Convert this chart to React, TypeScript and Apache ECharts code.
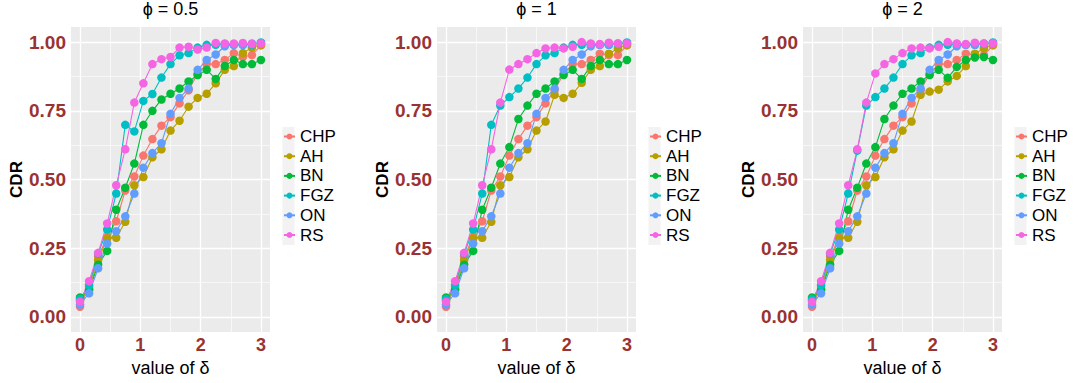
import React, { useEffect, useRef } from "react";
import * as echarts from "echarts";

const methods = ["CHP", "AH", "BN", "FGZ", "ON", "RS"];
const methodColors = ["#F8766D", "#B79F00", "#00BA38", "#00BFC4", "#619CFF", "#F564E3"];
const panelTitles = ["ϕ = 0.5", "ϕ = 1", "ϕ = 2"];
const delta = [0, 0.15, 0.3, 0.45, 0.6, 0.75, 0.9, 1.05, 1.2, 1.35, 1.5, 1.65, 1.8, 1.95, 2.1, 2.25, 2.4, 2.55, 2.7, 2.85, 3.0];
const xTickValues = [0, 1, 2, 3];
const xMinorValues = [0.5, 1.5, 2.5];
const yTickValues = [0, 0.25, 0.5, 0.75, 1];
const yMinorValues = [0.125, 0.375, 0.625, 0.875];

// phi = 0.5
const chpPhi05 = [0.037, 0.11, 0.22, 0.29, 0.348, 0.46, 0.511, 0.587, 0.647, 0.696, 0.727, 0.777, 0.825, 0.885, 0.92, 0.92, 0.935, 0.96, 0.946, 0.953, 0.988];
const ahPhi05 = [0.06, 0.1, 0.207, 0.285, 0.288, 0.346, 0.479, 0.509, 0.581, 0.61, 0.678, 0.714, 0.765, 0.797, 0.812, 0.85, 0.899, 0.913, 0.96, 0.98, 0.99];
const bnPhi05 = [0.071, 0.098, 0.19, 0.24, 0.39, 0.47, 0.558, 0.699, 0.75, 0.791, 0.812, 0.831, 0.857, 0.88, 0.899, 0.866, 0.913, 0.935, 0.92, 0.92, 0.935];
const fgzPhi05 = [0.065, 0.116, 0.23, 0.318, 0.449, 0.699, 0.675, 0.786, 0.811, 0.871, 0.92, 0.952, 0.96, 0.98, 0.99, 0.99, 0.993, 0.99, 0.99, 0.99, 0.999];
const onPhi05 = [0.045, 0.086, 0.177, 0.267, 0.312, 0.366, 0.449, 0.543, 0.596, 0.632, 0.739, 0.797, 0.831, 0.899, 0.935, 0.955, 0.985, 0.99, 0.99, 0.995, 0.997];
const rsPhi05 = [0.055, 0.13, 0.233, 0.34, 0.479, 0.61, 0.78, 0.85, 0.92, 0.938, 0.946, 0.98, 0.983, 0.973, 0.98, 0.997, 0.995, 0.995, 0.997, 0.993, 0.995];

// phi = 1
const chpPhi1 = [0.037, 0.11, 0.22, 0.29, 0.348, 0.46, 0.511, 0.587, 0.647, 0.696, 0.727, 0.777, 0.825, 0.885, 0.92, 0.92, 0.935, 0.958, 0.953, 0.953, 0.988];
const ahPhi1 = [0.06, 0.1, 0.207, 0.285, 0.288, 0.346, 0.479, 0.509, 0.581, 0.61, 0.678, 0.711, 0.808, 0.797, 0.812, 0.852, 0.899, 0.913, 0.958, 0.977, 0.99];
const bnPhi1 = [0.071, 0.098, 0.19, 0.24, 0.39, 0.47, 0.558, 0.618, 0.72, 0.769, 0.812, 0.831, 0.857, 0.88, 0.899, 0.866, 0.913, 0.935, 0.92, 0.92, 0.935];
const fgzPhi1 = [0.065, 0.116, 0.23, 0.318, 0.449, 0.699, 0.769, 0.8, 0.831, 0.871, 0.92, 0.952, 0.96, 0.98, 0.99, 0.99, 0.993, 0.99, 0.99, 0.993, 0.999];
const onPhi1 = [0.045, 0.086, 0.177, 0.267, 0.312, 0.366, 0.449, 0.543, 0.596, 0.632, 0.739, 0.797, 0.831, 0.899, 0.935, 0.955, 0.985, 0.99, 0.99, 0.995, 0.997];
const rsPhi1 = [0.055, 0.13, 0.233, 0.34, 0.479, 0.61, 0.78, 0.9, 0.92, 0.938, 0.96, 0.977, 0.98, 0.977, 0.983, 1.0, 0.995, 0.993, 0.998, 0.995, 0.995];

// phi = 2
const chpPhi2 = [0.037, 0.11, 0.22, 0.29, 0.348, 0.46, 0.511, 0.587, 0.647, 0.696, 0.727, 0.777, 0.825, 0.885, 0.92, 0.92, 0.935, 0.958, 0.953, 0.953, 0.988];
const ahPhi2 = [0.06, 0.1, 0.207, 0.285, 0.288, 0.346, 0.479, 0.509, 0.581, 0.61, 0.678, 0.711, 0.808, 0.82, 0.827, 0.857, 0.877, 0.913, 0.958, 0.977, 0.99];
const bnPhi2 = [0.071, 0.098, 0.19, 0.24, 0.39, 0.47, 0.558, 0.618, 0.72, 0.769, 0.812, 0.831, 0.857, 0.88, 0.899, 0.87, 0.91, 0.935, 0.944, 0.946, 0.935];
const fgzPhi2 = [0.065, 0.116, 0.23, 0.318, 0.449, 0.605, 0.769, 0.8, 0.831, 0.871, 0.92, 0.952, 0.96, 0.98, 0.99, 0.99, 0.993, 0.99, 0.99, 0.993, 0.999];
const onPhi2 = [0.045, 0.086, 0.177, 0.267, 0.312, 0.366, 0.449, 0.543, 0.596, 0.632, 0.739, 0.797, 0.831, 0.899, 0.935, 0.955, 0.985, 0.99, 0.99, 0.995, 0.997];
const rsPhi2 = [0.055, 0.13, 0.233, 0.34, 0.479, 0.61, 0.78, 0.886, 0.92, 0.938, 0.96, 0.977, 0.98, 0.977, 0.983, 1.0, 0.995, 0.993, 0.998, 0.995, 0.995];

const panelSeries = [
  [chpPhi05, ahPhi05, bnPhi05, fgzPhi05, onPhi05, rsPhi05],
  [chpPhi1, ahPhi1, bnPhi1, fgzPhi1, onPhi1, rsPhi1],
  [chpPhi2, ahPhi2, bnPhi2, fgzPhi2, onPhi2, rsPhi2],
];

// layout
const FONT = "Liberation Sans, Arial, Helvetica, sans-serif";
const GRID_LEFTS = [71, 437, 803];
const GRID_TOP = 27;
const GRID_W = 199;
const GRID_H = 305;
const LEGEND_LEFTS = [283, 649, 1015];
const X_MIN = -0.15;
const X_MAX = 3.15;
const Y_MIN = -0.055;
const Y_MAX = 1.055;
const LABEL_RED = "#993333";

function buildOption() {
  const grid: any[] = [];
  const xAxis: any[] = [];
  const yAxis: any[] = [];
  const title: any[] = [];
  const legend: any[] = [];
  const graphic: any[] = [];
  const gridSeries: any[] = [];
  const lineSeries: any[] = [];
  const pointSeries: any[] = [];

  panelTitles.forEach((t, i) => {
    grid.push({
      left: GRID_LEFTS[i],
      top: GRID_TOP,
      width: GRID_W,
      height: GRID_H,
      show: true,
      backgroundColor: "#EBEBEB",
      borderWidth: 0,
    });
    xAxis.push({
      gridIndex: i,
      type: "value",
      min: X_MIN,
      max: X_MAX,
      axisLine: { show: false },
      axisTick: { show: true, customValues: xTickValues, length: 3, lineStyle: { color: "#333333", width: 1 } },
      axisLabel: {
        customValues: xTickValues,
        color: LABEL_RED,
        fontWeight: "bold",
        fontSize: 18,
        fontFamily: FONT,
        margin: 4,
        formatter: (v: number) => String(v),
      },
      splitLine: { show: false },
      name: "value of δ",
      nameLocation: "middle",
      nameGap: 23,
      nameTextStyle: { fontSize: 18, fontFamily: FONT, color: "#000" },
    });
    yAxis.push({
      gridIndex: i,
      type: "value",
      min: Y_MIN,
      max: Y_MAX,
      axisLine: { show: false },
      axisTick: { show: true, customValues: yTickValues, length: 3, lineStyle: { color: "#333333", width: 1 } },
      axisLabel: {
        customValues: yTickValues,
        color: LABEL_RED,
        fontWeight: "bold",
        fontSize: 19,
        fontFamily: FONT,
        margin: 5,
        formatter: (v: number) => v.toFixed(2),
      },
      splitLine: { show: false },
      name: "CDR",
      nameLocation: "middle",
      nameGap: 45,
      nameRotate: 90,
      nameTextStyle: { fontSize: 17, fontWeight: "bold", fontFamily: FONT, color: "#000" },
    });
    title.push({
      text: t,
      left: GRID_LEFTS[i] + GRID_W / 2,
      top: 0,
      padding: 0,
      textAlign: "center",
      textStyle: { fontSize: 18, fontWeight: "normal", fontFamily: FONT, color: "#000" },
    });
    legend.push({
      orient: "vertical",
      left: LEGEND_LEFTS[i],
      top: 128,
      padding: 0,
      itemWidth: 11,
      itemHeight: 7.5,
      itemGap: 2.7,
      itemTextGap: 4,
      selectedMode: false,
      data: methods,
      textStyle: { fontSize: 17, lineHeight: 17, fontFamily: FONT, color: "#000" },
    });
    graphic.push({
      type: "rect",
      shape: { x: LEGEND_LEFTS[i] - 0.5, y: 127, width: 12, height: 118 },
      style: { fill: "#F2F2F2" },
      z: -1,
      silent: true,
    });

    const gl: any[] = [];
    xTickValues.forEach((v) => gl.push({ coords: [[v, Y_MIN], [v, Y_MAX]], lineStyle: { width: 1.3 } }));
    xMinorValues.forEach((v) => gl.push({ coords: [[v, Y_MIN], [v, Y_MAX]], lineStyle: { width: 0.6 } }));
    yTickValues.forEach((v) => gl.push({ coords: [[X_MIN, v], [X_MAX, v]], lineStyle: { width: 1.3 } }));
    yMinorValues.forEach((v) => gl.push({ coords: [[X_MIN, v], [X_MAX, v]], lineStyle: { width: 0.6 } }));
    gridSeries.push({
      type: "lines",
      coordinateSystem: "cartesian2d",
      xAxisIndex: i,
      yAxisIndex: i,
      silent: true,
      z: 1,
      lineStyle: { color: "#FFFFFF", opacity: 1, curveness: 0 },
      data: gl,
    });

    panelSeries[i].forEach((vals, j) => {
      const data = delta.map((d, k) => [d, vals[k]]);
      lineSeries.push({
        type: "line",
        name: methods[j],
        xAxisIndex: i,
        yAxisIndex: i,
        data,
        symbol: "circle",
        symbolSize: 8.5,
        showSymbol: false,
        lineStyle: { color: methodColors[j], width: 1.1 },
        itemStyle: { color: methodColors[j] },
        z: 2,
        silent: true,
      });
      pointSeries.push({
        type: "scatter",
        name: methods[j],
        xAxisIndex: i,
        yAxisIndex: i,
        data,
        symbol: "circle",
        symbolSize: 8.5,
        itemStyle: { color: methodColors[j], opacity: 1 },
        z: 3,
        silent: true,
      });
    });
  });

  return {
    animation: false,
    backgroundColor: "#FFFFFF",
    textStyle: { fontFamily: FONT },
    title,
    legend,
    grid,
    xAxis,
    yAxis,
    graphic,
    series: [...gridSeries, ...lineSeries, ...pointSeries],
  };
}

export default function App() {
  const ref = useRef<HTMLDivElement>(null);
  useEffect(() => {
    if (!ref.current) return;
    const chart = echarts.init(ref.current, null, { renderer: "svg" });
    chart.setOption(buildOption() as any);
    return () => chart.dispose();
  }, []);
  return (
    <div
      ref={ref}
      style={{ position: "fixed", left: 0, top: 0, width: 1075, height: 383, background: "#fff" }}
    />
  );
}
